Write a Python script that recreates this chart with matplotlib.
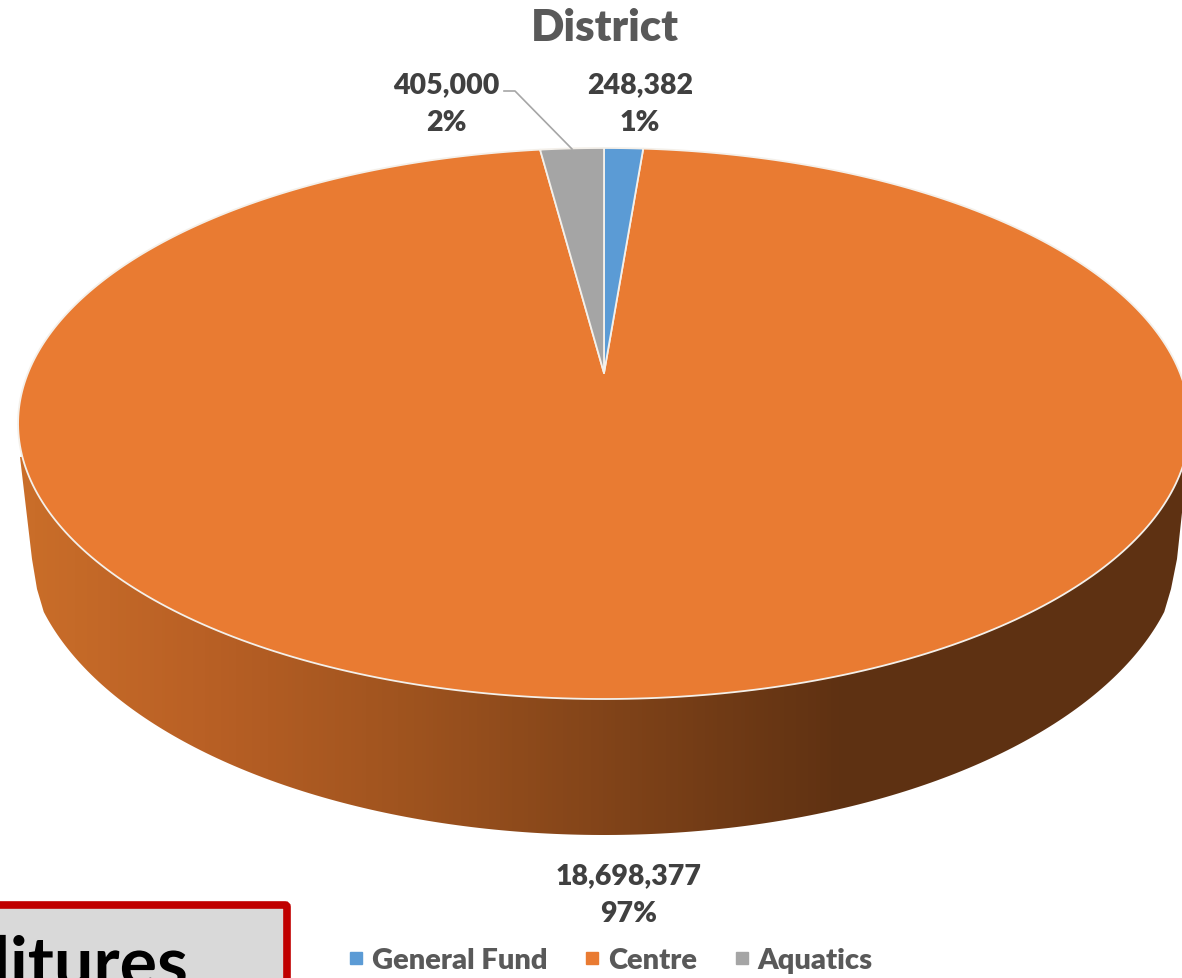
import numpy as np
import matplotlib
matplotlib.use("Agg")
import matplotlib.pyplot as plt
import matplotlib.patheffects as pe
from matplotlib.colors import LinearSegmentedColormap
from matplotlib.lines import Line2D
from matplotlib.patches import FancyBboxPatch, Polygon

plt.rcParams['font.family'] = ['Lato', 'DejaVu Sans']
WEIGHT = "heavy"

title = "District"
categories = ["General Fund", "Centre", "Aquatics"]
values = [248382, 18698377, 405000]
colors = ["#5B9BD5", "#E97B32", "#A5A5A5"]
box_label = "Expenditures"


# the 3D pie is a flat disc seen in perspective: unit circle -> picture pixels
def project(theta, r=1.0):
	u, v = r * np.sin(theta), r * np.cos(theta)
	w = 1 + 0.1833 * v
	return np.column_stack((604 + 576 * u / w, (374 - 197.7 * v) / w))


def ellipse_arc(cx, cy, a, b, start, stop, num=200):
	t = np.radians(np.linspace(start, stop, num))
	return np.column_stack((cx + a * np.cos(t), cy + b * np.sin(t)))


fig = plt.figure(figsize=(11.82, 9.79), dpi=100)
ax = fig.add_axes([0, 0, 1, 1])

# side wall
wall = np.vstack((
	[[604, 425], [20, 458], [32, 560], [37, 590]],
	ellipse_arc(604, 535, 580, 301, 165, 15),
	[[1171, 590], [1177, 560], [1188, 458]],
))
wall_patch = Polygon(wall, closed=True, facecolor="none", edgecolor="none")
ax.add_patch(wall_patch)
wall_cmap = LinearSegmentedColormap.from_list(
	"wall", [(0, "#C96D29"), (0.21, "#B96025"), (0.45, "#A0541F"), (1, "#5E3112")])
grad = np.clip((np.linspace(0, 1182, 300) - 30) / 820, 0, 1).reshape(1, -1)
img = ax.imshow(grad, extent=(0, 1182, 979, 0), aspect="auto", cmap=wall_cmap, zorder=1)
img.set_clip_path(wall_patch)

# top face
angles = np.cumsum([0] + values) / sum(values) * 2 * np.pi
apex = project(np.array([0.0]), r=0.0)
for i in [1, 0, 2]:
	rim = project(np.linspace(angles[i], angles[i + 1], 400))
	face = np.vstack((apex, rim))
	ax.add_patch(Polygon(face, closed=True, facecolor=colors[i], edgecolor="#F4F0EA",
		linewidth=1.3, joinstyle="round", zorder=2))

ax.text(605, 28, title, ha="center", va="center", fontsize=31.5, fontweight=WEIGHT, color="#595959")

# data labels
label_pos = [(640, 104), (629, 895), (446, 104)]
for i, (x, y) in enumerate(label_pos):
	txt = f"{values[i]:,}\n{values[i] / sum(values) * 100:.0f}%"
	ax.text(x, y, txt, ha="center", va="center", fontsize=20.5, fontweight=WEIGHT,
		color="#404040", linespacing=1.6, zorder=4)
ax.add_line(Line2D([504, 515, 572], [92, 92, 150], color="#A6A6A6", linewidth=1.2, zorder=3))

# box cut off by the corner of the slide
ax.add_patch(FancyBboxPatch((-40, 906), 327, 120, boxstyle="round,pad=0,rounding_size=2",
	facecolor="#D9D9D9", edgecolor="#C00000", linewidth=5.5, zorder=3))
ax.text(188, 988, box_label, ha="right", va="baseline", fontsize=50.5, fontweight="bold", color="black", zorder=4,
	path_effects=[pe.SimpleLineShadow(offset=(1.5, -1.5), shadow_color="#666666", alpha=0.6), pe.Normal()])

handles = [Line2D([], [], linestyle="none", marker="s", markersize=8.3, color=c) for c in colors]
ax.legend(handles, categories, ncol=3, loc="center", bbox_to_anchor=(611 / 1182, 1 - 961 / 979),
	frameon=False, labelcolor="#595959", prop={"weight": WEIGHT, "size": 21},
	handlelength=0.5, handletextpad=0.3, columnspacing=1.27, borderpad=0, borderaxespad=0)

ax.set_xlim(0, 1182)
ax.set_ylim(979, 0)
ax.axis("off")
fig.savefig("out.png", dpi=100)
